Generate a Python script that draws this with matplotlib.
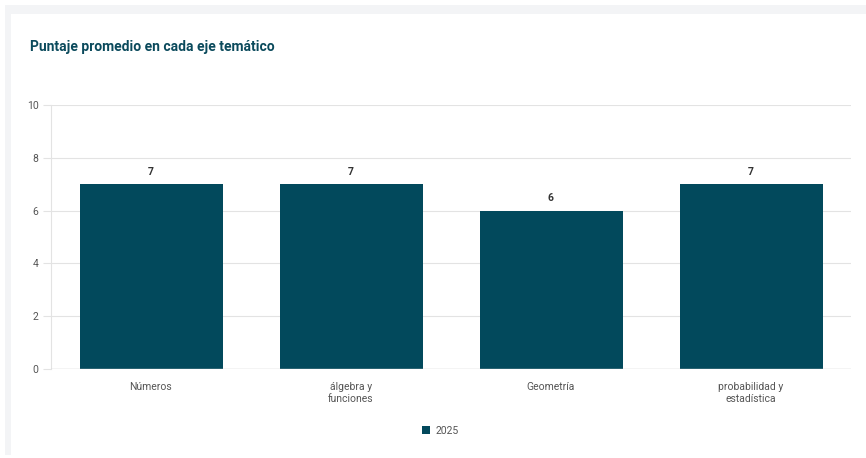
import matplotlib.pyplot as plt
from matplotlib.patches import Rectangle

# Data
categories = ["Números", "álgebra y\nfunciones", "Geometría", "probabilidad y\nestadística"]
values = [7, 7, 6, 7]
series_name = "2025"
yticks = [0, 2, 4, 6, 8, 10]

bar_color = "#02495c"
title_color = "#0b4a5c"
grid_color = "#e3e3e3"
text_color = "#555555"

plt.rcParams['font.family'] = ['Roboto', 'DejaVu Sans']

W, H = 866, 458
fig = plt.figure(figsize=(W / 100, H / 100), dpi=100)
fig.patch.set_facecolor("white")

# card border (light gray band at top and left)
fig.add_artist(Rectangle((5 / W, 1 - 14 / H), 1, 9 / H, transform=fig.transFigure,
                         facecolor="#f3f4f6", edgecolor="none", zorder=0))
fig.add_artist(Rectangle((5 / W, 3 / H), 6 / W, 1 - 17 / H, transform=fig.transFigure,
                         facecolor="#f3f4f6", edgecolor="none", zorder=0))

ax = fig.add_axes([51 / W, 89 / H, 800 / W, 264 / H])

x = range(len(categories))
bars = ax.bar(x, values, width=0.715, color=bar_color, label=series_name, zorder=3)

for xi, v in zip(x, values):
    ax.annotate(str(v), (xi, v), xytext=(0, 5.5), textcoords="offset points",
                ha="center", va="bottom", fontsize=7.5, fontweight="bold", color="#333333")

ax.set_xlim(-0.5, len(categories) - 0.5)
ax.set_ylim(0, 10)
ax.set_yticks(yticks)
ax.set_xticks(list(x))
ax.set_xticklabels(categories, fontsize=7.5, color=text_color, linespacing=1.3)
ax.tick_params(axis="y", labelsize=7.5, labelcolor=text_color, length=6, color=grid_color, pad=3)
ax.tick_params(axis="x", length=0, pad=9)
ax.yaxis.grid(True, color=grid_color, linewidth=0.8, zorder=0)
for s in ["top", "right", "bottom"]:
    ax.spines[s].set_visible(False)
ax.spines["left"].set_color(grid_color)
ax.axhline(0, color="#d0d0d0", linewidth=1, zorder=4)

fig.text(30 / W, 1 - 47 / H, "Puntaje promedio en cada eje temático", fontsize=10,
         fontweight="bold", color=title_color, va="center", ha="left")

fig.legend(loc="center", bbox_to_anchor=(440 / W, 1 - 431 / H), frameon=False,
           fontsize=7.5, labelcolor=text_color, handlelength=0.8, handleheight=0.8,
           handletextpad=0.5)

fig.savefig("out.png", dpi=100)
